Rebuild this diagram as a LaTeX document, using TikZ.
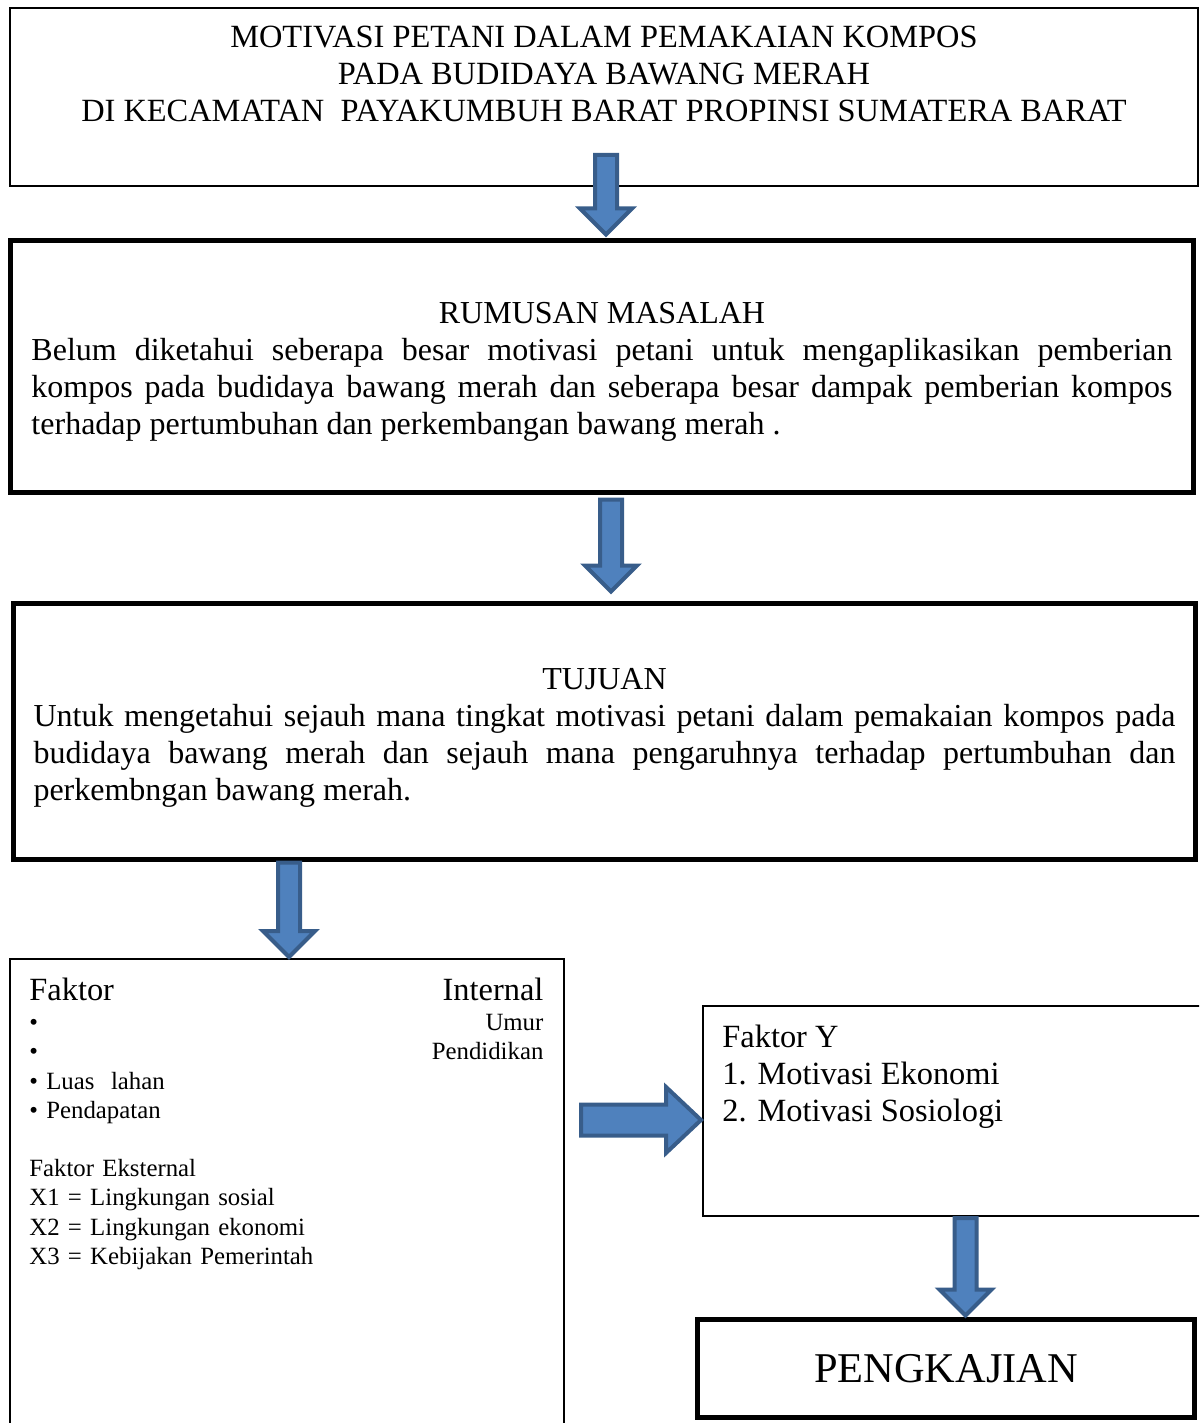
\documentclass[tikz,border=0pt]{standalone}
\usepackage{fontspec}
\setmainfont{Liberation Serif}
\usepackage{tikz}
\usetikzlibrary{positioning,calc}

\definecolor{arrowfill}{HTML}{4F81BD}
\definecolor{arrowline}{HTML}{385D8A}

\newcommand{\parasetup}{\fontsize{16}{18.5}\selectfont\hyphenpenalty=10000\relax}

\tikzset{
  thinbox/.style={draw, line width=1pt, rectangle, inner sep=0pt, outer sep=0pt, anchor=north west},
  thickbox/.style={draw, line width=2.5pt, rectangle, inner sep=0pt, outer sep=0pt, anchor=north west},
  bigtext/.style={font=\fontsize{16.2}{18.5}\selectfont},
  smalltext/.style={font=\fontsize{12.4}{14.6}\selectfont},
  paratext/.style={text width=570.5pt, align=justify, font=\parasetup},
  blockarrow/.style={fill=arrowfill, draw=arrowline, line width=2pt},
}

% block arrow pointing down, from #1 to tip #2
\newcommand{\blockdown}[2]{%
  \filldraw[blockarrow] let \p1 = #1, \p2 = #2 in
    (\x1-5.5pt,\y1) -- (\x1+5.5pt,\y1) -- (\x1+5.5pt,\y2+13pt)
    -- (\x1+13pt,\y2+13pt) -- (\x1,\y2) -- (\x1-13pt,\y2+13pt)
    -- (\x1-5.5pt,\y2+13pt) -- cycle;}

\begin{document}
\begin{tikzpicture}[x=0.5pt, y=-0.5pt]
  \useasboundingbox (0,0) rectangle (1199,1423);
  \clip (0,0) rectangle (1199,1423);

  % judul
  \node[thinbox, minimum width=594pt, minimum height=89pt] (title) at (10,8) {};
  \node[bigtext, align=center] (titletxt) at ($(title.north)+(0,66)$)
    {MOTIVASI PETANI DALAM PEMAKAIAN KOMPOS\\
     PADA BUDIDAYA BAWANG MERAH\\
     DI KECAMATAN\ \ PAYAKUMBUH BARAT PROPINSI SUMATERA BARAT};

  % rumusan masalah
  \node[thickbox, minimum width=591.5pt, minimum height=126pt, paratext] (rumusan) at (10.5,240.5)
    {{\centering\rule{0pt}{16pt}RUMUSAN MASALAH\par}
     Belum diketahui seberapa besar motivasi petani untuk mengaplikasikan pemberian\linebreak
     kompos pada budidaya bawang merah dan seberapa besar dampak pemberian kompos\linebreak
     terhadap pertumbuhan dan perkembangan bawang merah .};

  % tujuan
  \node[thickbox, minimum width=591pt, minimum height=128pt, paratext, text width=571pt] (tujuan) at (13.5,603.5)
    {{\centering\rule{0pt}{17pt}TUJUAN\par}
     Untuk mengetahui sejauh mana tingkat motivasi petani dalam pemakaian kompos pada\linebreak
     budidaya bawang merah dan sejauh mana pengaruhnya terhadap pertumbuhan dan\linebreak
     perkembngan bawang merah.};

  % faktor internal / eksternal
  \node[thinbox, minimum width=277pt, minimum height=240.5pt] (internal) at (10,959) {};
  \node[bigtext, text width=257pt, anchor=base west, inner sep=0pt] (intHead)
    at ($(internal.north west)+(19,41)$) {Faktor\hfill Internal};
  \node[smalltext, text width=257pt, align=left, anchor=north west, inner sep=0pt] (intList)
    at ($(internal.north west)+(19,55)$)
    {\textbullet\hfill Umur\\
     \textbullet\hfill Pendidikan\\
     \textbullet\ Luas\ \ lahan\\
     \textbullet\ Pendapatan\\[14.6pt]
     Faktor Eksternal\\
     X1 = Lingkungan sosial\\
     X2 = Lingkungan ekonomi\\
     X3 = Kebijakan Pemerintah};

  % faktor Y
  \node[thinbox, minimum width=253.5pt, minimum height=105pt] (faktory) at (703,1006) {};
  \node[bigtext, align=left, anchor=north west, inner sep=0pt] (ytxt)
    at ($(faktory.north west)+(19,19)$)
    {Faktor Y\\
     1. Motivasi Ekonomi\\
     2. Motivasi Sosiologi};

  % pengkajian
  \node[thickbox, minimum width=248.5pt, minimum height=49pt, font=\fontsize{21.2}{24}\selectfont] (kajian)
    at (697.5,1319.5) {PENGKAJIAN};

  % panah
  \blockdown{($(title.south)+(2,-31)$)}{($(rumusan.north)+(4,-6)$)}
  \blockdown{($(rumusan.south)+(9,7)$)}{($(tujuan.north)+(6.5,-12)$)}
  \blockdown{($(internal.north |- tujuan.south)+(2,3)$)}{($(internal.north)+(2,-2)$)}
  \blockdown{($(faktory.south)+(9,2)$)}{($(kajian.north)+(19.5,-4)$)}
  \filldraw[blockarrow] let \p1 = ($(internal.east |- faktory.west)+(17,9)$),
    \p2 = ($(faktory.west)+(-2,9)$) in
    (\x1,\y1+7.75pt) -- (\x2-17.5pt,\y1+7.75pt) -- (\x2-17.5pt,\y1+16.5pt)
    -- (\x2,\y1) -- (\x2-17.5pt,\y1-16.5pt) -- (\x2-17.5pt,\y1-7.75pt)
    -- (\x1,\y1-7.75pt) -- cycle;
\end{tikzpicture}
\end{document}
